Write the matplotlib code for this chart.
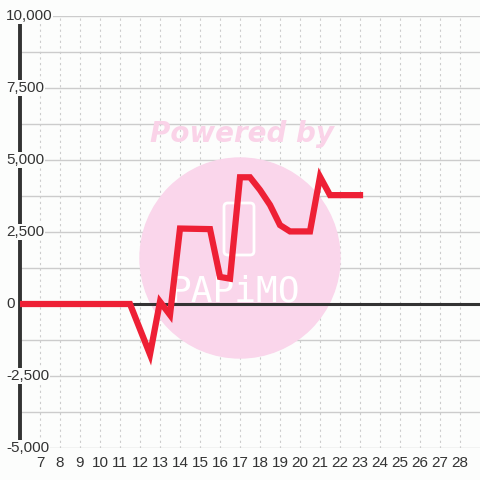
import numpy as np
import matplotlib.pyplot as plt
from matplotlib.patches import Circle, FancyBboxPatch

# line data
x_vals = [6, 11.5, 12.5, 13, 13.5, 14, 15.5, 16, 16.5, 17, 17.5, 18, 18.5, 19, 19.5, 20, 20.5, 21, 21.5, 22, 22.5, 23]
y_vals = [0, 0, -1750, 80, -380, 2620, 2600, 940, 880, 4400, 4400, 3960, 3440, 2740, 2520, 2520, 2520, 4420, 3780, 3780, 3780, 3780]

x_ticks = list(range(7, 29))
y_ticks = [-5000, -2500, 0, 2500, 5000, 7500, 10000]
y_labels = ['-5,000', '-2,500', '0', '2,500', '5,000', '7,500', '10,000']

plt.rcParams['font.family'] = ['Liberation Sans', 'DejaVu Sans']
bg = '#fcfdfc'

fig = plt.figure(figsize=(4.8, 4.8), dpi=100)
fig.patch.set_facecolor(bg)
ax = fig.add_axes([20/480, 1 - 448/480, 1 - 20/480, 432/480])
ax.set_facecolor('none')

ax.set_xlim(6, 29)
ax.set_ylim(-5000, 10000)

# grid
for yy in np.arange(-5000, 10001, 1250):
    ax.axhline(yy, color='#cccccc', lw=1, zorder=1)
for xx in x_ticks:
    ax.axvline(xx, color='#cccccc', lw=0.8, ls=(0, (2, 3)), zorder=1)

# watermark
ax.add_patch(Circle((0.5, 1 - 258/480), 100/480, transform=fig.transFigure,
                    color='#fad6eb', zorder=1.5, clip_on=False))
ax.text(0.505, 1 - 134/480, 'Powered by', ha='center', va='center', fontsize=20,
        fontweight='bold', style='italic', color='#fad3e8', family='DejaVu Sans',
        transform=fig.transFigure, zorder=1.5)
ax.add_patch(FancyBboxPatch((224/480, 1 - 255/480), 30/480, 52/480,
                            boxstyle='round,pad=0,rounding_size=0.008',
                            transform=fig.transFigure, fill=False,
                            ec='white', lw=2, zorder=1.6, clip_on=False))
ax.text(0.49, 1 - 292/480, 'PAPiMO', ha='center', va='center', fontsize=26,
        color='white', family='DejaVu Sans Mono', transform=fig.transFigure, zorder=1.6)

ax.axhline(0, color='#333333', lw=2.2, zorder=2)
ax.plot(x_vals, y_vals, color='#ee2035', lw=4.5, solid_joinstyle='miter', zorder=3)

for s in ['top', 'right', 'bottom']:
    ax.spines[s].set_visible(False)
ax.spines['left'].set_color('#333333')
ax.spines['left'].set_linewidth(2.8)
ax.spines['left'].set_zorder(2)

ax.set_xticks(x_ticks)
ax.set_xticklabels([str(t) for t in x_ticks])
ax.set_yticks([])
ax.tick_params(axis='x', length=0, pad=6, labelsize=11, colors='#333333')

for v, lab in zip(y_ticks, y_labels):
    ax.text(-14/460, v, lab, ha='left', va='center', fontsize=11, color='#333333',
            transform=ax.get_yaxis_transform(), zorder=4,
            bbox=dict(boxstyle='square,pad=0.05', fc=bg, ec='none'))

fig.savefig('out.png', dpi=100, facecolor=fig.get_facecolor())
